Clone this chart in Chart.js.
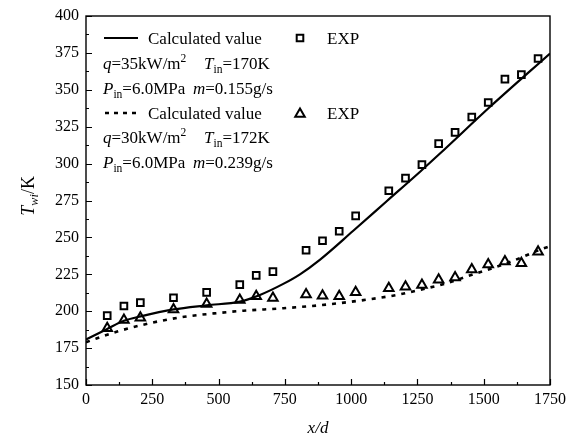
<!DOCTYPE html>
<html>
<head>
<meta charset="utf-8">
<script src="https://cdn.jsdelivr.net/npm/chart.js@4.4.1/dist/chart.umd.min.js"></script>
<style>
  html, body { margin: 0; padding: 0; background: #fff; }
  #wrap { width: 566px; height: 439px; }
</style>
</head>
<body>
<div id="wrap"><canvas id="chart" width="566" height="439"></canvas></div>
<script>
// experimental points (x/d) and wall temperatures, K
const expX = [80, 143, 205, 330, 455, 580, 642, 705, 830, 892, 955, 1017, 1142, 1205, 1267, 1330, 1392, 1455, 1517, 1580, 1642, 1705];
const expSquare = [197.0, 203.5, 205.8, 209.1, 212.8, 218.0, 224.3, 226.8, 241.3, 247.7, 254.2, 264.6, 281.6, 290.2, 299.3, 313.5, 321.2, 331.6, 341.4, 357.2, 360.3, 371.2];
const expTriangle = [188.5, 194.0, 195.6, 201.2, 204.8, 207.6, 210.1, 209.0, 211.3, 210.4, 210.1, 212.9, 215.6, 216.6, 217.8, 221.3, 222.8, 228.3, 231.6, 233.6, 232.5, 240.3];

// calculated curves
const calc1X = [0, 80, 143, 206, 330, 455, 581, 656, 744, 807, 883, 1008, 1134, 1260, 1335, 1524, 1750];
const calc1Y = [180.8, 188.0, 193.5, 196.5, 201.2, 204.0, 206.5, 211.0, 218.5, 225.0, 235.0, 254.5, 274.5, 294.5, 306.8, 338.5, 374.6];
const calc2X = [0, 118, 244, 370, 483, 593, 744, 908, 1046, 1172, 1260, 1361, 1461, 1587, 1725, 1750];
const calc2Y = [179.0, 186.2, 192.0, 196.2, 198.5, 200.3, 202.0, 204.5, 207.5, 211.0, 214.5, 219.0, 225.0, 232.5, 242.5, 244.0];

const xTicks = [0, 250, 500, 750, 1000, 1250, 1500, 1750];
const yTicks = [150, 175, 200, 225, 250, 275, 300, 325, 350, 375, 400];

const SERIF = "'Liberation Serif', 'Times New Roman', serif";

function pts(xs, ys) {
  return xs.map(function(x, i) { return { x: x, y: ys[i] }; });
}

// draw a row of text made of runs: [text, italic, 'sub' | 'sup']
function drawRuns(ctx, x, y, runs, size) {
  runs.forEach(function(r) {
    let fs = size, dy = 0;
    if (r[2] === 'sub') { fs = size * 0.68; dy = 4; }
    if (r[2] === 'sup') { fs = size * 0.68; dy = -7; }
    ctx.font = (r[1] ? 'italic ' : '') + fs + 'px ' + SERIF;
    ctx.fillText(r[0], x, y + dy);
    x += ctx.measureText(r[0]).width;
  });
  return x;
}

function square(ctx, x, y, s) {
  ctx.beginPath();
  ctx.rect(x - s, y - s, 2 * s, 2 * s);
  ctx.stroke();
}

function triangle(ctx, x, y, r) {
  ctx.beginPath();
  ctx.moveTo(x, y - r);
  ctx.lineTo(x + r * 0.866, y + r * 0.5);
  ctx.lineTo(x - r * 0.866, y + r * 0.5);
  ctx.closePath();
  ctx.stroke();
}

const decorations = {
  id: 'decorations',
  afterDraw: function(chart) {
    const ctx = chart.ctx;
    const a = chart.chartArea;
    const xs = chart.scales.x, ys = chart.scales.y;
    ctx.save();
    ctx.strokeStyle = '#000';
    ctx.fillStyle = '#000';

    // frame
    ctx.lineWidth = 1.4;
    ctx.strokeRect(a.left, a.top, a.right - a.left, a.bottom - a.top);

    // inward ticks, major + minor
    ctx.lineWidth = 1.2;
    ctx.beginPath();
    for (let v = 0; v <= 1750; v += 125) {
      const px = Math.round(xs.getPixelForValue(v)) + 0.5;
      const len = (v % 250 === 0) ? 6 : 3;
      ctx.moveTo(px, a.bottom);
      ctx.lineTo(px, a.bottom - len);
    }
    for (let v = 150; v <= 400; v += 12.5) {
      const py = Math.round(ys.getPixelForValue(v)) + 0.5;
      const len = (v % 25 === 0) ? 6 : 3;
      ctx.moveTo(a.left, py);
      ctx.lineTo(a.left + len, py);
    }
    ctx.stroke();

    // axis titles
    ctx.textBaseline = 'alphabetic';
    ctx.font = 'italic 17px ' + SERIF;
    ctx.textAlign = 'center';
    ctx.fillText('x/d', (a.left + a.right) / 2, 433);
    ctx.textAlign = 'left';
    ctx.save();
    ctx.translate(34, 196);
    ctx.rotate(-Math.PI / 2);
    ctx.font = 'italic 18px ' + SERIF;
    const w1 = ctx.measureText('T').width;
    ctx.font = 'italic 12px ' + SERIF;
    const w2 = ctx.measureText('wi').width;
    ctx.font = '18px ' + SERIF;
    const w3 = ctx.measureText('/K').width;
    drawRuns(ctx, -(w1 + w2 + w3) / 2, 0, [['T', true], ['wi', true, 'sub'], ['/K', false]], 18);
    ctx.restore();

    // legend block
    const fs = 17;
    ctx.lineWidth = 2.2;
    ctx.beginPath();
    ctx.moveTo(104, 38); ctx.lineTo(138, 38);
    ctx.stroke();
    ctx.setLineDash([4, 5]);
    ctx.lineWidth = 2.6;
    ctx.beginPath();
    ctx.moveTo(105, 113); ctx.lineTo(138, 113);
    ctx.stroke();
    ctx.setLineDash([]);

    drawRuns(ctx, 148, 44, [['Calculated value', false]], fs);
    drawRuns(ctx, 103, 69, [['q', true], ['=35kW/m', false], ['2', false, 'sup']], fs);
    drawRuns(ctx, 204, 69, [['T', true], ['in', false, 'sub'], ['=170K', false]], fs);
    drawRuns(ctx, 103, 94, [['P', true], ['in', false, 'sub'], ['=6.0MPa', false]], fs);
    drawRuns(ctx, 193, 94, [['m', true], ['=0.155g/s', false]], fs);

    drawRuns(ctx, 148, 119, [['Calculated value', false]], fs);
    drawRuns(ctx, 103, 143, [['q', true], ['=30kW/m', false], ['2', false, 'sup']], fs);
    drawRuns(ctx, 204, 143, [['T', true], ['in', false, 'sub'], ['=172K', false]], fs);
    drawRuns(ctx, 103, 168, [['P', true], ['in', false, 'sub'], ['=6.0MPa', false]], fs);
    drawRuns(ctx, 193, 168, [['m', true], ['=0.239g/s', false]], fs);

    ctx.lineWidth = 2;
    square(ctx, 300, 38, 3.3);
    triangle(ctx, 300, 114, 5.5);
    drawRuns(ctx, 327, 44, [['EXP', false]], fs);
    drawRuns(ctx, 327, 119, [['EXP', false]], fs);

    ctx.restore();
  }
};

new Chart(document.getElementById('chart'), {
  type: 'scatter',
  data: {
    datasets: [{
      label: 'Calculated value 1',
      data: pts(calc1X, calc1Y),
      showLine: true,
      borderColor: '#000',
      borderWidth: 2.2,
      pointRadius: 0,
      cubicInterpolationMode: 'monotone'
    }, {
      label: 'Calculated value 2',
      data: pts(calc2X, calc2Y),
      showLine: true,
      borderColor: '#000',
      borderWidth: 2.6,
      borderDash: [4, 6],
      pointRadius: 0,
      cubicInterpolationMode: 'monotone'
    }, {
      label: 'EXP 1',
      data: pts(expX, expSquare),
      pointStyle: 'rect',
      pointRadius: 4.7,
      pointBorderWidth: 2,
      pointBorderColor: '#000',
      pointBackgroundColor: 'rgba(0,0,0,0)'
    }, {
      label: 'EXP 2',
      data: pts(expX, expTriangle),
      pointStyle: 'triangle',
      pointRadius: 5.5,
      pointBorderWidth: 2,
      pointBorderColor: '#000',
      pointBackgroundColor: 'rgba(0,0,0,0)'
    }]
  },
  options: {
    responsive: false,
    animation: false,
    layout: { padding: { top: 16, right: 16, left: 0, bottom: 0 } },
    plugins: { legend: { display: false }, tooltip: { enabled: false } },
    scales: {
      x: {
        type: 'linear',
        min: 0,
        max: 1750,
        afterFit: function(s) { s.height = 54; s.paddingLeft = 0; s.paddingRight = 0; },
        afterBuildTicks: function(s) { s.ticks = xTicks.map(function(v) { return { value: v }; }); },
        grid: { display: false, drawTicks: false },
        border: { display: false },
        ticks: {
          color: '#000', padding: 5, maxRotation: 0,
          font: { family: SERIF, size: 16 },
          callback: function(v) { return String(v); }
        }
      },
      y: {
        type: 'linear',
        min: 150,
        max: 400,
        afterFit: function(s) { s.width = 86; s.paddingTop = 0; s.paddingBottom = 0; },
        afterBuildTicks: function(s) { s.ticks = yTicks.map(function(v) { return { value: v }; }); },
        grid: { display: false, drawTicks: false },
        border: { display: false },
        ticks: {
          color: '#000', padding: 7,
          font: { family: SERIF, size: 16 },
          callback: function(v) { return String(v); }
        }
      }
    }
  },
  plugins: [decorations]
});
</script>
</body>
</html>
